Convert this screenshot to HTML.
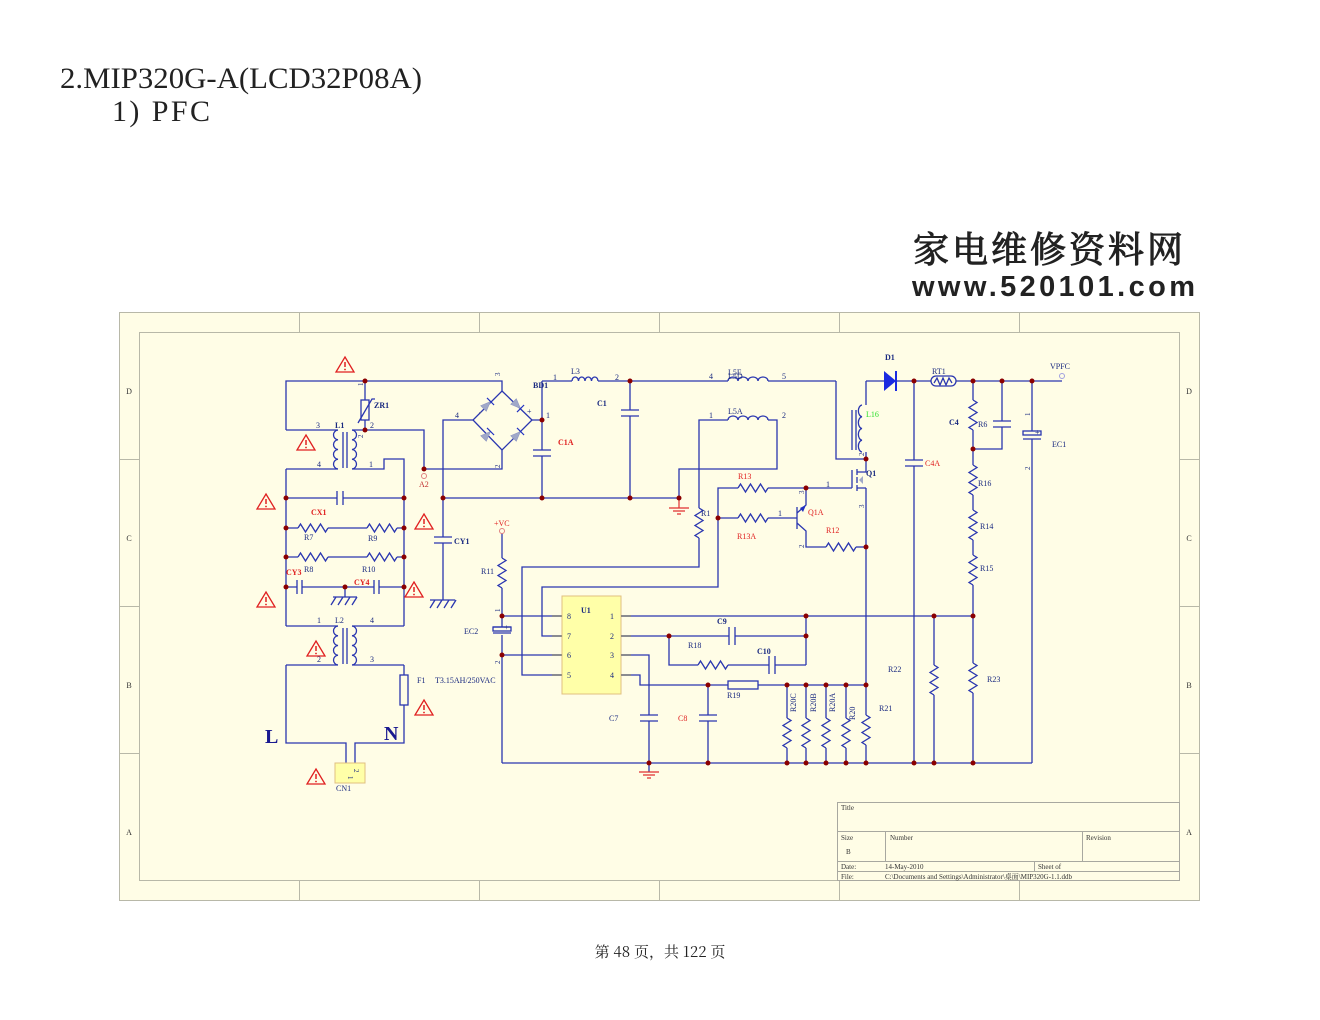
<!DOCTYPE html>
<html><head><meta charset="utf-8"><style>
html,body{margin:0;padding:0;background:#fff;width:1320px;height:1020px;overflow:hidden}
svg{display:block}
text{font-family:"Liberation Serif","Noto Serif CJK SC",serif}
</style></head><body>
<svg width="1320" height="1020" viewBox="0 0 1320 1020" xmlns="http://www.w3.org/2000/svg">
<defs>
<g id="warn"><polygon points="0,-8 9,7 -9,7" fill="none" stroke="#e02020" stroke-width="1.3"/><line x1="0" y1="-3" x2="0" y2="2" stroke="#e02020" stroke-width="1.5"/><circle cx="0" cy="4.5" r="0.9" fill="#e02020"/></g>
<g id="hr"><path d="M0 0 l2.5 -4 l5 8 l5 -8 l5 8 l5 -8 l5 8 l2.5 -4" fill="none"/></g>
<g id="vr"><path d="M0 0 l4 2.5 l-8 5 l8 5 l-8 5 l8 5 l-8 5 l4 2.5" fill="none"/></g>
<g id="dio"><polygon points="-5,-4 5,0 -5,4" fill="#a0a8c8" stroke="#8890c0" stroke-width="0.5"/><line x1="5" y1="-5" x2="5" y2="5" stroke="#2030c0" stroke-width="1.2"/></g>
</defs>
<text x="60" y="88" font-size="30" fill="#222" textLength="362" lengthAdjust="spacingAndGlyphs">2.MIP320G-A(LCD32P08A)</text>
<text x="112" y="121" font-size="30" fill="#222" textLength="98" lengthAdjust="spacing">1) PFC</text>
<text x="913" y="262" font-size="36" fill="#222" stroke="#222" stroke-width="1" style="font-family:'Noto Serif CJK SC',serif" letter-spacing="3">家电维修资料网</text>
<text x="912" y="296" font-size="29" font-weight="bold" fill="#222" style="font-family:'Liberation Sans',sans-serif" textLength="283">www.520101.com</text>

<rect x="119.5" y="312.5" width="1080" height="588" fill="#fffde6" stroke="#b8b8a8"/>
<rect x="139.5" y="332.5" width="1040" height="548" fill="#fffde6" stroke="#b8b8a8"/>
<g stroke="#b8b8a8">
<path d="M299.5 312v20M479.5 312v20M659.5 312v20M839.5 312v20M1019.5 312v20M299.5 880v20M479.5 880v20M659.5 880v20M839.5 880v20M1019.5 880v20M119 459.5h20M119 606.5h20M119 753.5h20M1179 459.5h20M1179 606.5h20M1179 753.5h20"/>
</g>
<g font-size="8" fill="#333" text-anchor="middle">
<text x="129" y="394">D</text><text x="129" y="541">C</text><text x="129" y="688">B</text><text x="129" y="835">A</text>
<text x="1189" y="394">D</text><text x="1189" y="541">C</text><text x="1189" y="688">B</text><text x="1189" y="835">A</text>
</g>
<g stroke="#a8a8a0" fill="none"><rect x="837.5" y="802.5" width="342" height="78"/><path d="M837 831.5h342M837 861.5h342M837 871.5h342M885.5 831v30M1082.5 831v30M1034.5 861v10"/></g>
<g font-size="7" fill="#333"><text x="841" y="810">Title</text><text x="841" y="840">Size</text><text x="846" y="854">B</text><text x="890" y="840">Number</text><text x="1086" y="840">Revision</text><text x="841" y="869">Date:</text><text x="885" y="869">14-May-2010</text><text x="1038" y="869">Sheet    of</text><text x="841" y="879">File:</text><text x="885" y="879">C:\Documents and Settings\Administrator\桌面\MIP320G-1.1.ddb</text></g>

<g fill="none" stroke="#2a36b0" stroke-width="1.3">
<polyline points="286,430 286,381 502,381 502,391"/>
<polyline points="286,430 338,430"/>
<path d="M338 430 a5 4.9 0 0 0 0 9.75 a5 4.9 0 0 0 0 9.75 a5 4.9 0 0 0 0 9.75 a5 4.9 0 0 0 0 9.75"/>
<path d="M352 430 a5 4.9 0 0 1 0 9.75 a5 4.9 0 0 1 0 9.75 a5 4.9 0 0 1 0 9.75 a5 4.9 0 0 1 0 9.75"/>
<path d="M343 432v36M347 432v36"/>
<polyline points="286,469 338,469"/>
<polyline points="352,469 384,469 384,459 404,459 404,626"/>
<polyline points="286,469 286,626"/>
<polyline points="352,430 424,430 424,469 502,469 502,450"/>
<polyline points="365,381 365,400"/><rect x="361" y="400" width="8" height="20"/><polyline points="365,420 365,430"/><path d="M358 423 L372 399 l3 0"/>
<path d="M286 498h51M337 491v14M343 491v14M343 498h61"/>
<path d="M286 528h12M328 528h39M397 528h7M286 557h12M328 557h39M397 557h7"/>
<use href="#hr" x="298" y="528"/><use href="#hr" x="367" y="528"/><use href="#hr" x="298" y="557"/><use href="#hr" x="367" y="557"/>
<path d="M286 587h11M297 580v14M302 580v14M302 587h72M374 580v14M379 580v14M379 587h25"/>
<path d="M345 587v10M333 597h24M336 597l-5 8M343 597l-5 8M350 597l-5 8M357 597l-5 8"/>
<path d="M286 626h52M352 626h52"/>
<path d="M338 626 a5 4.9 0 0 0 0 9.75 a5 4.9 0 0 0 0 9.75 a5 4.9 0 0 0 0 9.75 a5 4.9 0 0 0 0 9.75"/>
<path d="M352 626 a5 4.9 0 0 1 0 9.75 a5 4.9 0 0 1 0 9.75 a5 4.9 0 0 1 0 9.75 a5 4.9 0 0 1 0 9.75"/>
<path d="M343 628v36M347 628v36"/>
<path d="M286 665h52M352 665h52"/>
<polyline points="286,665 286,743 346,743 346,763"/>
<polyline points="404,665 404,675"/><rect x="400" y="675" width="8" height="30"/><polyline points="404,705 404,743 355,743 355,763"/>
<polygon points="502,391 532,420 502,450 473,420"/>
<polyline points="473,420 443,420 443,537"/>
<path d="M434 537h18M434 543h18M443 543v57M430 600h25M435 600l-5 8M442 600l-5 8M449 600l-5 8M456 600l-5 8"/>
<path d="M532 420h10M542 381v69M533 450h18M533 456h18M542 456v42"/>
<path d="M542 381h30M598 381h130M768 381h68M836 381v78h30"/>
<path d="M572 381 a3.25 4 0 0 1 6.5 0 a3.25 4 0 0 1 6.5 0 a3.25 4 0 0 1 6.5 0 a3.25 4 0 0 1 6.5 0"/>
<path d="M728 381 a5 4 0 0 1 10 0 a5 4 0 0 1 10 0 a5 4 0 0 1 10 0 a5 4 0 0 1 10 0"/>
<path d="M728 420 a5 4 0 0 1 10 0 a5 4 0 0 1 10 0 a5 4 0 0 1 10 0 a5 4 0 0 1 10 0"/>
<path d="M630 381v29M621 410h18M621 416h18M630 416v82"/>
<path d="M443 498h236"/>
<polyline points="679,498 679,469 777,469 777,420 768,420"/>
<polyline points="728,420 699,420 699,508"/><use href="#vr" x="699" y="508"/>
<polyline points="699,538 699,567 522,567 522,675 561,675"/>
<polyline points="738,488 718,488 718,587 542,587 542,636 561,636"/>
<use href="#hr" x="738" y="488"/><path d="M768 488h84"/>
<path d="M718 518h20"/><use href="#hr" x="738" y="518"/><path d="M768 518h29M797 507v22"/>
<polyline points="797,513 806,505 806,488"/><polyline points="797,523 806,531 806,547 826,547"/>
<use href="#hr" x="826" y="547"/><path d="M856 547h10"/>
<path d="M852 470v18M857 469v6M857 477v6M857 485v6M857 472h9v-13M857 488h9"/>
<path d="M866 381v24M866 452v7"/>
<path d="M866 405 a4 5.9 0 0 0 0 11.75 a4 5.9 0 0 0 0 11.75 a4 5.9 0 0 0 0 11.75 a4 5.9 0 0 0 0 11.75" transform="translate(-4 0)"/>
<path d="M852 410v40M856 410v40"/>
<path d="M866 488v227M866 745v18"/>
<path d="M866 381h18M896 381h35M956 381h106"/>
<rect x="931" y="376" width="25" height="10" rx="5"/>
<path d="M934 383l3 -5l3 7l3 -7l3 7l3 -7l3 5"/>
<path d="M914 381v79M905 460h18M905 466h18M914 466v297"/>
<path d="M973 381v19M973 430v35M973 495v15M973 540v15M973 585v78M973 693v70"/>
<use href="#vr" x="973" y="400"/><use href="#vr" x="973" y="465"/><use href="#vr" x="973" y="510"/><use href="#vr" x="973" y="555"/><use href="#vr" x="973" y="663"/>
<path d="M1002 381v40M993 421h18M993 427h18M1002 427v22h-29"/>
<path d="M1032 381v50M1032 439v324"/><rect x="1023" y="431" width="18" height="4"/><path d="M1023 439h18"/>
<path d="M502 616h59M620 616h353"/>
<path d="M934 616v49M934 695v68"/><use href="#vr" x="934" y="665"/>
<path d="M620 636h109M729 627v18M735 627v18M735 636h71M806 616v49M669 636v29h29M728 665h41M769 656v18M775 656v18M775 665h31"/>
<use href="#hr" x="698" y="665"/>
<path d="M620 655h29v60M640 715h18M640 721h18M649 721v51"/>
<polyline points="620,675 640,675 640,685 728,685"/><rect x="728" y="681" width="30" height="8"/><path d="M758 685h108"/>
<path d="M708 685v30M699 715h18M699 721h18M708 721v42"/>
<path d="M787 685v33M787 748v15M806 685v33M806 748v15M826 685v33M826 748v15M846 685v33M846 748v15"/>
<use href="#vr" x="787" y="718"/><use href="#vr" x="806" y="718"/><use href="#vr" x="826" y="718"/><use href="#vr" x="846" y="718"/><use href="#vr" x="866" y="715"/>
<path d="M502 533v25M502 588v39M493 627h18M493 633h18M502 635v128M502 655h59"/><rect x="493" y="627" width="18" height="4"/>
<use href="#vr" x="502" y="558"/>
<path d="M502 763h530"/>
</g>
<use href="#dio" transform="translate(487,405) rotate(-45)"/>
<use href="#dio" transform="translate(517,405) rotate(45)"/>
<use href="#dio" transform="translate(487,435) rotate(-45)"/>
<use href="#dio" transform="translate(517,435) rotate(-45)"/>
<polygon points="884,371 884,391 896,381" fill="#1a2ae0"/><path d="M896 371v20" stroke="#1a2ae0" stroke-width="2"/>
<polygon points="859,480 863,476 863,484" fill="#a0a8c8"/>
<polygon points="806,505 800,508 803,512" fill="#2030c0"/>
<g fill="none" stroke="#e03030" stroke-width="1.2">
<path d="M669 508h20M673 511h12M677 514h4M679 498v10"/>
<path d="M639 772h20M643 775h12M647 778h4"/>
</g>
<circle cx="424" cy="476" r="2.5" fill="none" stroke="#e08080"/>
<circle cx="502" cy="531" r="2.5" fill="none" stroke="#e08080"/>
<circle cx="1062" cy="376" r="2.5" fill="none" stroke="#a0a0e0"/>
<rect x="335" y="763" width="30" height="20" fill="#ffffa8" stroke="#e0c080"/>
<rect x="562" y="596" width="59" height="98" fill="#ffffa8" stroke="#e0c080"/>
<g stroke="#666" stroke-width="1.3"><path d="M552 616h10M552 636h10M552 655h10M552 675h10M621 616h10M621 636h10M621 655h10M621 675h10"/></g>
<g fill="#8b0000">
<circle cx="365" cy="381" r="2.5"/><circle cx="365" cy="430" r="2.5"/><circle cx="424" cy="469" r="2.5"/>
<circle cx="286" cy="498" r="2.5"/><circle cx="404" cy="498" r="2.5"/><circle cx="286" cy="528" r="2.5"/><circle cx="404" cy="528" r="2.5"/>
<circle cx="286" cy="557" r="2.5"/><circle cx="404" cy="557" r="2.5"/><circle cx="286" cy="587" r="2.5"/><circle cx="404" cy="587" r="2.5"/><circle cx="345" cy="587" r="2.5"/>
<circle cx="443" cy="498" r="2.5"/><circle cx="542" cy="420" r="2.5"/><circle cx="542" cy="498" r="2.5"/><circle cx="630" cy="381" r="2.5"/><circle cx="630" cy="498" r="2.5"/><circle cx="679" cy="498" r="2.5"/>
<circle cx="866" cy="459" r="2.5"/><circle cx="806" cy="488" r="2.5"/><circle cx="866" cy="547" r="2.5"/><circle cx="718" cy="518" r="2.5"/>
<circle cx="914" cy="381" r="2.5"/><circle cx="973" cy="381" r="2.5"/><circle cx="1002" cy="381" r="2.5"/><circle cx="1032" cy="381" r="2.5"/><circle cx="973" cy="449" r="2.5"/>
<circle cx="502" cy="616" r="2.5"/><circle cx="502" cy="655" r="2.5"/><circle cx="806" cy="616" r="2.5"/><circle cx="934" cy="616" r="2.5"/><circle cx="973" cy="616" r="2.5"/>
<circle cx="669" cy="636" r="2.5"/><circle cx="806" cy="636" r="2.5"/>
<circle cx="708" cy="685" r="2.5"/><circle cx="787" cy="685" r="2.5"/><circle cx="806" cy="685" r="2.5"/><circle cx="826" cy="685" r="2.5"/><circle cx="846" cy="685" r="2.5"/><circle cx="866" cy="685" r="2.5"/>
<circle cx="649" cy="763" r="2.5"/><circle cx="708" cy="763" r="2.5"/><circle cx="787" cy="763" r="2.5"/><circle cx="806" cy="763" r="2.5"/><circle cx="826" cy="763" r="2.5"/><circle cx="846" cy="763" r="2.5"/><circle cx="866" cy="763" r="2.5"/><circle cx="914" cy="763" r="2.5"/><circle cx="934" cy="763" r="2.5"/><circle cx="973" cy="763" r="2.5"/>
</g>
<g>
<use href="#warn" x="345" y="365"/><use href="#warn" x="306" y="443"/><use href="#warn" x="266" y="502"/><use href="#warn" x="424" y="522"/><use href="#warn" x="414" y="590"/><use href="#warn" x="266" y="600"/><use href="#warn" x="316" y="649"/><use href="#warn" x="424" y="708"/><use href="#warn" x="316" y="777"/>
</g>
<g font-size="8" fill="#1a2a80">
<text x="374" y="408" font-weight="bold">ZR1</text><text x="335" y="428" font-weight="bold">L1</text>
<text x="316" y="428">3</text><text x="317" y="467">4</text><text x="370" y="428">2</text><text x="369" y="467">1</text>
<text x="304" y="540">R7</text><text x="368" y="541">R9</text><text x="304" y="572">R8</text><text x="362" y="572">R10</text>
<text x="335" y="623">L2</text><text x="317" y="623">1</text><text x="370" y="623">4</text><text x="317" y="662">2</text><text x="370" y="662">3</text>
<text x="417" y="683">F1</text><text x="435" y="683">T3.15AH/250VAC</text>
<text x="336" y="791">CN1</text><text x="419" y="487" fill="#c03030">A2</text>
<text x="455" y="418">4</text><text x="553" y="380">1</text><text x="571" y="374">L3</text><text x="615" y="380">2</text>
<text x="533" y="388" font-weight="bold">BD1</text><text x="546" y="418">1</text>
<text x="597" y="406" font-weight="bold">C1</text><text x="454" y="544" font-weight="bold">CY1</text>
<text x="709" y="379">4</text><text x="728" y="375">L5E</text><text x="728" y="379">L5D</text><text x="782" y="379">5</text>
<text x="709" y="418">1</text><text x="728" y="414">L5A</text><text x="782" y="418">2</text>
<text x="885" y="360" font-weight="bold">D1</text><text x="932" y="374">RT1</text><text x="1050" y="369">VPFC</text>
<text x="949" y="425" font-weight="bold">C4</text><text x="978" y="427">R6</text><text x="1052" y="447">EC1</text>
<text x="978" y="486">R16</text><text x="980" y="529">R14</text><text x="980" y="571">R15</text><text x="987" y="682">R23</text>
<text x="866" y="476" font-weight="bold">Q1</text><text x="826" y="487">1</text><text x="778" y="516">1</text>
<text x="701" y="516">R1</text><text x="481" y="574">R11</text><text x="464" y="634">EC2</text>
<text x="581" y="613" font-weight="bold">U1</text>
<text x="567" y="619">8</text><text x="567" y="639">7</text><text x="567" y="658">6</text><text x="567" y="678">5</text>
<text x="610" y="619">1</text><text x="610" y="639">2</text><text x="610" y="658">3</text><text x="610" y="678">4</text>
<text x="717" y="624" font-weight="bold">C9</text><text x="688" y="648">R18</text><text x="757" y="654" font-weight="bold">C10</text>
<text x="727" y="698">R19</text><text x="609" y="721">C7</text><text x="888" y="672">R22</text><text x="879" y="711">R21</text>
</g>
<g font-size="8" fill="#1a2a80">
<text transform="translate(796,712) rotate(-90)">R20C</text><text transform="translate(816,712) rotate(-90)">R20B</text><text transform="translate(835,712) rotate(-90)">R20A</text><text transform="translate(855,720) rotate(-90)">R20</text>
<text transform="translate(363,386) rotate(-90)" font-size="7">1</text><text transform="translate(363,438) rotate(-90)" font-size="7">2</text>
<text transform="translate(500,376) rotate(-90)" font-size="7">3</text><text transform="translate(500,468) rotate(-90)" font-size="7">2</text>
<text transform="translate(500,612) rotate(-90)" font-size="7">1</text><text transform="translate(500,664) rotate(-90)" font-size="7">2</text>
<text transform="translate(1030,416) rotate(-90)" font-size="7">1</text><text transform="translate(1030,470) rotate(-90)" font-size="7">2</text>
<text transform="translate(864,456) rotate(-90)" font-size="7">2</text><text transform="translate(864,508) rotate(-90)" font-size="7">3</text>
<text transform="translate(804,494) rotate(-90)" font-size="7">3</text><text transform="translate(804,548) rotate(-90)" font-size="7">2</text>
<text transform="translate(348,776) rotate(90)" font-size="7">1</text><text transform="translate(354,769) rotate(90)" font-size="7">2</text>
</g>
<g font-size="8" fill="#e02020">
<text x="558" y="445" font-weight="bold">C1A</text><text x="311" y="515" font-weight="bold">CX1</text><text x="286" y="575" font-weight="bold">CY3</text><text x="354" y="585" font-weight="bold">CY4</text>
<text x="494" y="526">+VC</text><text x="925" y="466">C4A</text><text x="738" y="479">R13</text><text x="737" y="539">R13A</text><text x="808" y="515">Q1A</text><text x="826" y="533">R12</text><text x="678" y="721">C8</text>
</g>
<text x="866" y="417" font-size="8" fill="#30e030">L16</text>
<text x="479" y="414" font-size="7" fill="#666">-</text><text x="527" y="414" font-size="8" fill="#1a2a80">+</text>
<text x="504" y="630" font-size="8" fill="#1a2a80">+</text><text x="1035" y="435" font-size="8" fill="#1a2a80">+</text>
<text x="265" y="743" font-size="20" font-weight="bold" fill="#1a1a90">L</text>
<text x="384" y="740" font-size="20" font-weight="bold" fill="#1a1a90">N</text>
<text x="660" y="957" font-size="15" fill="#222" text-anchor="middle" style="font-family:'Noto Serif CJK SC',serif">第 48 页，共 122 页</text>
</svg>
</body></html>
